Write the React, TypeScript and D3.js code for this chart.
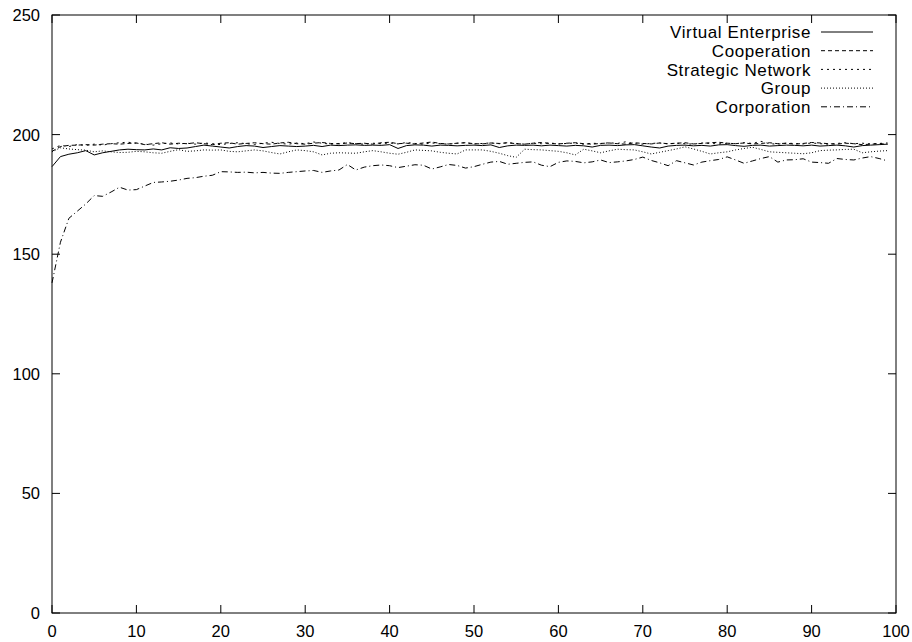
import React from "react";
import * as d3 from "d3";

const seriesNames = ["Virtual Enterprise", "Cooperation", "Strategic Network", "Group", "Corporation"];
const dashPatterns = ["none", "4,3", "2,4", "1,2", "6,3,1,3"];

const xTicks = [0, 10, 20, 30, 40, 50, 60, 70, 80, 90, 100];
const yTicks = [0, 50, 100, 150, 200, 250];

const virtualEnterprise = [186.6, 190.8, 191.8, 192.4, 193.3, 191.5, 192.4, 193, 193.6, 193.9, 193.7, 193.6, 194, 193.6, 194.5, 194.2, 194.4, 195, 195.6, 195.2, 194.8, 194.4, 195, 195.4, 195.2, 194.6, 195, 195.4, 195.2, 195, 195.2, 195.5, 195, 195.6, 195.4, 195.6, 195.7, 195.5, 195.6, 195.5, 195.8, 194.2, 195.4, 195.7, 195.6, 195.2, 195.6, 195.5, 195.3, 195.5, 195.6, 195.4, 195.7, 194.6, 195.3, 195.6, 195.5, 195.6, 195.3, 195.6, 195.4, 195.2, 195.5, 195.3, 194.8, 195.5, 195.6, 195.4, 195.7, 195.8, 195.3, 194.8, 194.4, 195.2, 195.5, 195.6, 195.3, 195.5, 195.2, 195.7, 195.8, 195.4, 195.1, 195.5, 195.6, 195.2, 195.4, 195.6, 195.5, 195.3, 195.6, 195.2, 195.4, 195.6, 195.3, 194.8, 195.4, 195.6, 195.8, 196];
const cooperation = [193, 195, 195.5, 195.6, 195.8, 195.6, 196, 196.2, 196, 196.3, 196.5, 195.8, 196.2, 196.6, 196, 196.4, 196.2, 196.6, 196.2, 195.8, 196.4, 196.6, 196, 196.3, 196.6, 196.2, 196, 196.5, 196.8, 196.2, 196, 196.4, 196.7, 196.3, 196.1, 196.5, 196.2, 196.4, 196, 196.6, 196.8, 196.2, 196.4, 196.1, 196.5, 196.9, 196.3, 196.1, 196.4, 196.6, 196.2, 196.1, 196.5, 196.3, 196.6, 196.2, 196, 196.4, 196.7, 196.3, 196.1, 196.4, 196.6, 196.2, 196, 196.3, 196.5, 196.2, 196, 196.6, 196.3, 196.1, 196.5, 196.2, 196.4, 196.6, 196.1, 196.3, 196.6, 196.8, 196.4, 196.2, 196.5, 196.1, 196.3, 196.6, 196.2, 196.4, 196, 196.3, 196.7, 196.5, 196.2, 196, 196.4, 196.2, 195.8, 196, 196.2, 196];
const strategicNetwork = [194, 195.5, 195, 195.8, 195.5, 196, 195.6, 196.2, 196.6, 196.8, 196.4, 196, 195.6, 196.2, 196.5, 196.1, 196.4, 196, 196.5, 196.2, 195.8, 196.3, 196.6, 196.2, 195.9, 196.4, 196.8, 196.3, 196, 196.5, 196.2, 196.9, 196.4, 196, 196.3, 196.6, 196.2, 196, 196.4, 196.2, 196.5, 196.1, 196.7, 196.3, 196, 196.5, 196.2, 196, 196.4, 196.6, 196.1, 196.3, 196.5, 196.2, 196.6, 196.3, 196, 196.4, 196.2, 196.5, 196.1, 196.3, 196.5, 196, 196.4, 196.2, 196.6, 196.3, 197, 196.2, 196, 196.3, 196.5, 196.1, 196.4, 196.2, 196, 196.5, 196.3, 196.1, 196.4, 196.2, 196.6, 196.3, 197.2, 196.2, 196, 196.4, 196.3, 196.1, 196.5, 196.2, 196, 196.3, 196.6, 196.2, 196.4, 196.1, 196.3, 196.5];
const group = [192.8, 194.5, 194, 193.7, 193.5, 192.8, 193.2, 192.8, 192.5, 192.6, 193, 192.8, 192.4, 192.2, 193, 193.7, 193, 193.2, 193.6, 193.5, 193.6, 193, 192.8, 193.2, 193.6, 193.2, 192.5, 191.9, 192.8, 193.6, 193.3, 192.8, 191.5, 192.2, 192.4, 192.3, 192.2, 192.8, 193.3, 192.8, 192.2, 191.8, 192.6, 193.6, 193.4, 193.2, 192.6, 192.2, 191.9, 193.6, 193.6, 193.6, 193, 192.2, 191.2, 190.5, 193.9, 193.7, 193.6, 193.3, 193, 192.4, 191.5, 193.9, 193.2, 192.4, 193.2, 193.9, 193.7, 193.6, 192.8, 191.9, 192.6, 193.3, 194, 194.9, 194, 193, 191.9, 192.4, 192.8, 193.6, 194.2, 194.7, 193.8, 192.8, 192.6, 192.4, 192.2, 192, 192.4, 193.3, 193.5, 193.6, 193.8, 193.9, 192.4, 192.8, 193.1, 193.3];
const corporation = [138, 155, 165, 168, 171, 174.5, 174.2, 176, 178, 176.8, 177, 178.5, 180, 180.2, 180.5, 181, 181.7, 182, 182.6, 183, 184.5, 184.4, 184.2, 184.3, 184, 184.2, 183.9, 183.8, 184.2, 184.5, 184.8, 185, 184.2, 184.8, 185.2, 187.5, 185.2, 186.4, 187, 187.3, 187, 186.2, 186.8, 187.4, 187.2, 185.6, 186.5, 187.5, 187.1, 186, 186.6, 187.6, 188.5, 188.8, 187.6, 188, 188.4, 188.6, 187.2, 186.6, 188.4, 189, 188.8, 188.2, 188.6, 189.4, 188.3, 188.6, 189, 189.6, 190.6, 189.2, 188.2, 187, 189.1, 188.2, 187.3, 188.5, 189.1, 189.6, 190.7, 189.4, 188, 189, 190, 190.8, 188.5, 189.4, 189.5, 189.9, 188.5, 188.3, 188, 190, 189.6, 189.4, 190.2, 190.8, 190, 189];

const allSeries = [virtualEnterprise, cooperation, strategicNetwork, group, corporation];

const W = 912;
const H = 642;
const left = 52;
const right = 896;
const top = 15;
const bottom = 613;
const font = "'Liberation Sans', Arial, Helvetica, sans-serif";

export default function App() {
  const x = d3.scaleLinear().domain([0, 100]).range([left, right]);
  const y = d3.scaleLinear().domain([0, 250]).range([bottom, top]);
  const line = d3
    .line<number>()
    .x((_, i) => x(i))
    .y((d) => y(d));
  const tickLen = 8;
  const legendTextX = 811;
  const legendLineX1 = 821;
  const legendLineX2 = 873;
  const legendY0 = 32;
  const legendStep = 18.7;

  return (
    <svg
      width={W}
      height={H}
      style={{ position: "absolute", left: 0, top: 0, background: "#fff" }}
      fontFamily={font}
    >
      <rect x={0} y={0} width={W} height={H} fill="#fff" />
      {allSeries.map((s, i) => (
        <path
          key={seriesNames[i]}
          d={line(s) || ""}
          fill="none"
          stroke="#000"
          strokeWidth={1}
          strokeDasharray={dashPatterns[i]}
        />
      ))}
      {xTicks.map((t) => (
        <g key={"x" + t}>
          <line x1={x(t)} x2={x(t)} y1={bottom} y2={bottom - tickLen} stroke="#000" />
          <line x1={x(t)} x2={x(t)} y1={top} y2={top + tickLen} stroke="#000" />
          <text x={x(t)} y={637} textAnchor="middle" fontSize={16.5} fill="#000">
            {t}
          </text>
        </g>
      ))}
      {yTicks.map((t) => (
        <g key={"y" + t}>
          <line x1={left} x2={left + tickLen} y1={y(t)} y2={y(t)} stroke="#000" />
          <line x1={right} x2={right - tickLen} y1={y(t)} y2={y(t)} stroke="#000" />
          <text x={40} y={y(t)} dy="0.36em" textAnchor="end" fontSize={16.5} fill="#000">
            {t}
          </text>
        </g>
      ))}
      <rect
        x={left}
        y={top}
        width={right - left}
        height={bottom - top}
        fill="none"
        stroke="#000"
        strokeWidth={1}
      />
      {seriesNames.map((name, i) => {
        const ly = legendY0 + i * legendStep;
        return (
          <g key={"leg" + name}>
            <text
              x={legendTextX}
              y={ly}
              dy="0.36em"
              textAnchor="end"
              fontSize={17}
              letterSpacing={0.6}
              fill="#000"
            >
              {name}
            </text>
            <line
              x1={legendLineX1}
              x2={legendLineX2}
              y1={ly}
              y2={ly}
              stroke="#000"
              strokeDasharray={dashPatterns[i]}
            />
          </g>
        );
      })}
    </svg>
  );
}
